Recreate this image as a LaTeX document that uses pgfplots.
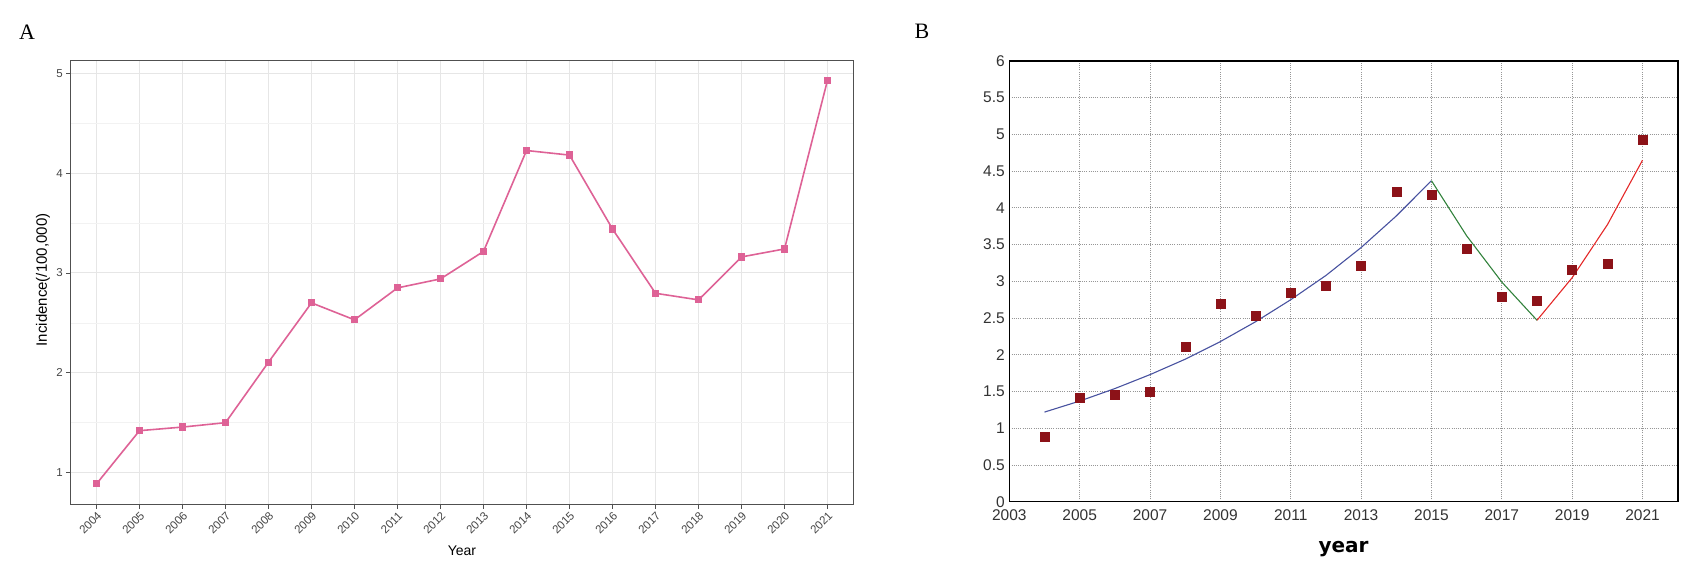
\documentclass[border=0pt]{standalone}
\usepackage{pgfplots}
\pgfplotsset{compat=1.18}
\usepackage{pgfplotstable}
\usepackage{fontspec}
\setmainfont{Liberation Sans}
\newfontfamily\serifA{Liberation Serif}
\newfontfamily\dejavu{DejaVu Sans}
\definecolor{pinkline}{RGB}{222,98,150}
\definecolor{gridA}{RGB}{230,230,230}
\definecolor{gridAminor}{RGB}{242,242,242}
\definecolor{borderA}{RGB}{80,80,80}
\definecolor{tickA}{RGB}{70,70,70}
\definecolor{ptB}{RGB}{140,18,24}
\definecolor{blueB}{RGB}{72,82,160}
\definecolor{greenB}{RGB}{50,130,60}
\definecolor{redB}{RGB}{228,40,40}
\definecolor{gridB}{RGB}{150,150,150}
\pgfplotstableread{
year inc
2004 0.887
2005 1.420
2006 1.456
2007 1.500
2008 2.106
2009 2.700
2010 2.530
2011 2.850
2012 2.940
2013 3.215
2014 4.226
2015 4.180
2016 3.440
2017 2.796
2018 2.730
2019 3.160
2020 3.240
2021 4.930
}\incdata
\pgfplotstableread{
year fit
2004 1.22
2005 1.37
2006 1.54
2007 1.73
2008 1.94
2009 2.18
2010 2.45
2011 2.75
2012 3.08
2013 3.46
2014 3.89
2015 4.37
}\segone
\pgfplotstableread{
year fit
2015 4.37
2016 3.62
2017 2.99
2018 2.47
}\segtwo
\pgfplotstableread{
year fit
2018 2.47
2019 3.05
2020 3.77
2021 4.65
}\segthree
\begin{document}
\begin{tikzpicture}[x=1pt,y=1pt]
\useasboundingbox (0,0) rectangle (1696,572);
\node[font=\serifA\fontsize{22pt}{24pt}\selectfont] at (27,540) {A};
\node[font=\serifA\fontsize{22pt}{24pt}\selectfont] at (922,541) {B};
% Panel A
\begin{axis}[
  at={(70.7pt,67.7pt)}, anchor=south west,
  width=782.6pt, height=444.3pt, scale only axis,
  xmin=2003.4, xmax=2021.6, ymin=0.6825, ymax=5.1325,
  xtick={2004,...,2021}, ytick={1,2,3,4,5},
  minor ytick={1.5,2.5,3.5,4.5},
  /pgf/number format/.cd, 1000 sep={}, assume math mode=true, /pgfplots/.cd,
  grid=both,
  major grid style={color=gridA, line width=0.9pt},
  minor grid style={color=gridAminor, line width=0.5pt},
  axis line style={color=borderA, line width=0.9pt},
  tick align=outside, xtick pos=bottom, ytick pos=left,
  major tick length=4.5pt, minor tick length=0pt,
  tick style={color=borderA, line width=0.8pt},
  xticklabel style={rotate=45, anchor=north east, text=tickA, font=\fontsize{11.5pt}{13pt}\selectfont, inner sep=1.5pt},
  yticklabel style={text=tickA, font=\fontsize{11.5pt}{13pt}\selectfont},
  xlabel={Year},
  xlabel style={at={(axis description cs:0.5,-0.1044)}, anchor=center, font=\fontsize{14pt}{16pt}\selectfont},
  ylabel={Incidence(/100,000)},
  ylabel style={at={(axis description cs:-0.0354,0.505)}, anchor=center, font=\fontsize{15pt}{17pt}\selectfont},
]
\addplot[color=pinkline, line width=1.6pt, mark=square*, mark size=2.8pt, mark options={fill=pinkline, draw=pinkline}] table[x=year, y=inc] {\incdata};
\end{axis}
% Panel B
\begin{axis}[
  at={(1009.3pt,70.3pt)}, anchor=south west,
  width=668.4pt, height=440.7pt, scale only axis,
  xmin=2003, xmax=2022, ymin=0, ymax=6,
  xtick={2003,2005,...,2021}, ytick={0,0.5,...,6},
  yticklabels={0,0.5,1,1.5,2,2.5,3,3.5,4,4.5,5,5.5,6},
  /pgf/number format/.cd, 1000 sep={}, assume math mode=true, /pgfplots/.cd,
  grid=major,
  major grid style={color=gridB, line width=0.8pt, dash pattern=on 1pt off 1.2pt},
  axis line style={color=black, line width=1.6pt},
  major tick length=0pt,
  xticklabel style={text=black!80, font=\fontsize{15.5pt}{17pt}\selectfont, yshift=-4pt},
  yticklabel style={text=black!80, font=\fontsize{15.5pt}{17pt}\selectfont, xshift=-1pt},
  xlabel={year},
  xlabel style={at={(axis description cs:0.5,-0.1073)}, anchor=center, font=\dejavu\bfseries\fontsize{20pt}{22pt}\selectfont},
]
\addplot[color=blueB, line width=1.1pt] table[x=year, y=fit] {\segone};
\addplot[color=greenB, line width=1.1pt] table[x=year, y=fit] {\segtwo};
\addplot[color=redB, line width=1.1pt] table[x=year, y=fit] {\segthree};
\addplot[only marks, mark=square*, mark size=4.5pt, mark options={fill=ptB, draw=ptB}] table[x=year, y=inc] {\incdata};
\end{axis}
\end{tikzpicture}
\end{document}
